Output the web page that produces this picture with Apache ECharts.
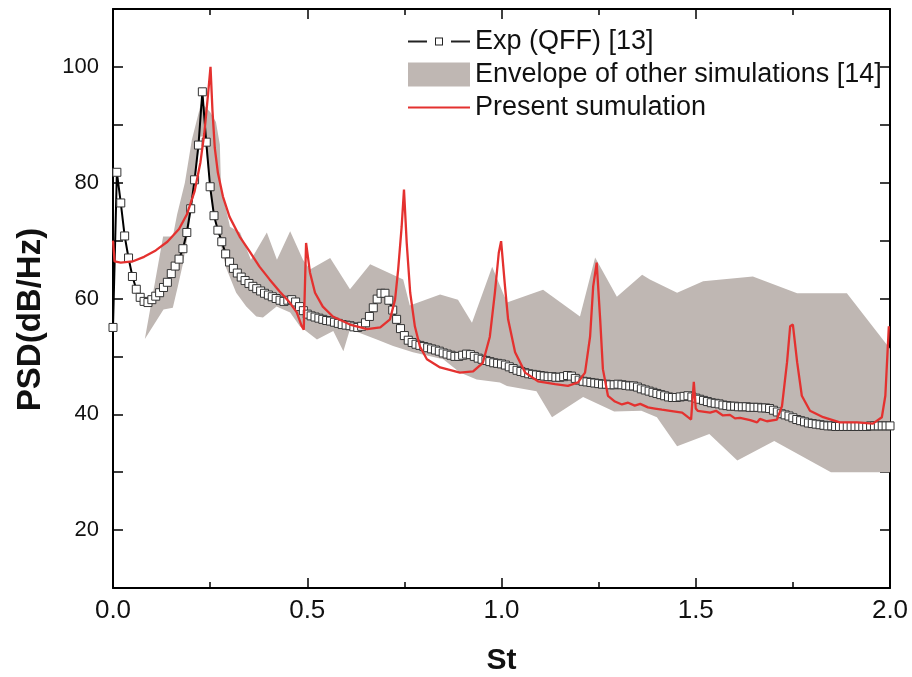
<!DOCTYPE html>
<html>
<head>
<meta charset="utf-8">
<script src="https://cdn.jsdelivr.net/npm/echarts@6/dist/echarts.min.js"></script>
<style>
  html, body { margin: 0; padding: 0; background: #fff; }
  #chart { width: 912px; height: 677px; }
</style>
</head>
<body>
<div id="chart"></div>
<script>
// measured spectrum, sampled every 0.01 in St from 0.00 to 2.00
const expStep = 0.01;
const expPsd = [
  55.0, 81.8, 76.5, 70.8, 67.0, 63.8, 61.6, 60.2, 59.5, 59.3,
  59.8, 60.4, 61.0, 61.9, 62.8, 64.3, 65.6, 66.8, 68.6, 71.4,
  75.5, 80.5, 86.5, 95.7, 87.0, 79.3, 74.3, 71.8, 69.8, 67.7,
  66.3, 65.2, 64.4, 63.7, 63.1, 62.6, 62.1, 61.7, 61.3, 60.9,
  60.6, 60.3, 60.0, 59.7, 59.5, 59.7, 59.8, 59.4, 58.6, 57.9,
  57.3, 57.0, 56.8, 56.6, 56.4, 56.2, 56.1, 55.9, 55.7, 55.5,
  55.4, 55.3, 55.1, 55.0, 55.2, 55.8, 56.9, 58.4, 59.9, 60.9,
  60.9, 59.7, 58.0, 56.4, 54.8, 53.6, 52.8, 52.4, 52.1, 51.9,
  51.7, 51.5, 51.3, 51.1, 50.9, 50.6, 50.4, 50.2, 50.0, 50.0,
  50.2, 50.4, 50.3, 50.0, 49.7, 49.5, 49.3, 49.1, 48.9, 48.8,
  48.7, 48.5, 48.2, 47.9, 47.6, 47.4, 47.2, 47.0, 46.9, 46.8,
  46.7, 46.6, 46.5, 46.5, 46.4, 46.4, 46.5, 46.7, 46.6, 46.2,
  45.9, 45.7, 45.6, 45.5, 45.4, 45.3, 45.2, 45.2, 45.1, 45.1,
  45.2, 45.1, 45.0, 44.9, 44.9, 44.7, 44.4, 44.2, 44.0, 43.8,
  43.6, 43.4, 43.2, 43.0, 42.9, 42.9, 43.0, 43.1, 43.2, 43.0,
  42.8, 42.6, 42.4, 42.2, 42.0, 41.9, 41.8, 41.6, 41.5, 41.4,
  41.4, 41.3, 41.3, 41.3, 41.2, 41.2, 41.2, 41.1, 41.1, 41.0,
  40.7, 40.4, 40.1, 39.9, 39.7, 39.4, 39.1, 38.9, 38.7, 38.5,
  38.4, 38.3, 38.2, 38.1, 38.0, 38.0, 37.9, 37.9, 37.9, 37.9,
  37.9, 37.9, 37.9, 37.9, 37.9, 38.0, 38.0, 38.0, 38.0, 38.0,
  38.0
];

// present simulation
const simSt = [
  0.000, 0.004, 0.020, 0.050, 0.080, 0.110, 0.140, 0.170, 0.190, 0.210,
  0.225, 0.235, 0.245, 0.251, 0.256, 0.262, 0.270, 0.283, 0.300, 0.326,
  0.352, 0.377, 0.403, 0.429, 0.455, 0.473, 0.486, 0.491, 0.497, 0.507,
  0.520, 0.540, 0.566, 0.610, 0.654, 0.688, 0.713, 0.726, 0.734, 0.743,
  0.749, 0.756, 0.765, 0.777, 0.790, 0.808, 0.842, 0.893, 0.927, 0.952,
  0.970, 0.983, 0.993, 0.999, 1.009, 1.017, 1.035, 1.061, 1.094, 1.138,
  1.171, 1.197, 1.215, 1.228, 1.236, 1.245, 1.254, 1.261, 1.274, 1.292,
  1.310, 1.326, 1.343, 1.357, 1.377, 1.395, 1.413, 1.434, 1.465, 1.480,
  1.488, 1.495, 1.500, 1.505, 1.537, 1.552, 1.570, 1.588, 1.601, 1.614,
  1.640, 1.658, 1.665, 1.683, 1.709, 1.722, 1.735, 1.743, 1.750, 1.761,
  1.773, 1.794, 1.828, 1.871, 1.915, 1.956, 1.979, 1.988, 1.997
];
const simPsd = [
  70.0, 66.4, 66.2, 66.4, 67.2, 68.3, 69.8, 72.0, 74.5, 78.5,
  83.5, 88.5, 95.5, 100.0, 92.5, 86.0, 81.7, 77.6, 74.1, 70.7,
  68.1, 65.5, 63.3, 61.2, 59.3, 57.6, 55.2, 54.6, 69.6, 64.5,
  61.0, 58.6, 56.9, 55.5, 54.7, 55.0, 56.4, 59.8, 65.0, 72.4,
  78.8, 69.6, 61.0, 55.2, 51.7, 49.5, 48.1, 47.2, 47.4, 48.9,
  53.4, 61.0, 67.9, 69.9, 62.1, 56.4, 50.7, 47.2, 45.7, 45.2,
  44.9, 45.5, 47.2, 53.4, 62.1, 66.2, 56.4, 47.8, 43.2, 42.2,
  41.7, 42.0, 41.5, 41.8, 41.2, 41.0, 40.8, 40.6, 40.3, 39.5,
  39.1, 45.6, 41.0, 40.6, 40.3, 40.6, 39.8, 39.9, 39.3, 39.4,
  39.0, 38.6, 39.2, 38.8, 39.1, 41.4, 49.0, 55.2, 55.5, 49.0,
  43.2, 40.6, 39.5, 38.6, 38.6, 38.4, 39.5, 43.2, 55.2
];

// envelope of other simulations: upper and lower bounds
const envUpperSt = [
  0.082, 0.129, 0.154, 0.165, 0.185, 0.203, 0.227, 0.250, 0.265, 0.275,
  0.278, 0.301, 0.327, 0.355, 0.396, 0.422, 0.456, 0.489, 0.507, 0.559,
  0.610, 0.662, 0.747, 0.764, 0.842, 0.888, 0.924, 0.976, 1.014, 1.107,
  1.202, 1.241, 1.297, 1.362, 1.382, 1.452, 1.519, 1.647, 1.761, 1.889,
  2.000
];
const envUpperPsd = [
  53.0, 70.7, 70.7, 74.5, 80.0, 87.4, 93.8, 92.2, 90.5, 86.6,
  79.3, 72.4, 71.4, 66.7, 71.4, 66.7, 71.6, 66.7, 65.0, 67.0,
  61.6, 65.9, 63.3, 58.8, 60.7, 59.8, 55.8, 65.5, 59.3, 61.5,
  56.9, 67.1, 60.3, 64.1, 63.3, 61.0, 63.0, 63.8, 60.9, 60.9,
  51.3
];
const envLowerSt = [
  0.082, 0.130, 0.154, 0.167, 0.180, 0.195, 0.210, 0.225, 0.236, 0.245,
  0.258, 0.272, 0.290, 0.317, 0.343, 0.369, 0.386, 0.421, 0.456, 0.481,
  0.525, 0.567, 0.593, 0.610, 0.679, 0.721, 0.772, 0.850, 0.893, 0.936,
  0.996, 1.014, 1.090, 1.130, 1.210, 1.290, 1.360, 1.400, 1.452, 1.535,
  1.607, 1.702, 1.848, 2.000
];
const envLowerPsd = [
  53.0, 58.1, 58.4, 62.1, 66.0, 72.0, 80.0, 88.0, 88.0, 82.0,
  75.0, 71.0, 65.5, 61.0, 58.6, 56.9, 56.7, 58.6, 57.6, 55.2,
  52.9, 54.4, 50.9, 54.7, 52.9, 51.8, 50.7, 49.5, 47.2, 46.0,
  45.5, 44.9, 44.0, 39.5, 43.0, 40.5, 40.6, 39.5, 34.5, 36.6,
  32.0, 35.4, 30.0, 30.0
];

const seriesNames = ['Exp (QFF) [13]', 'Envelope of other simulations [14]', 'Present sumulation'];
const xTicks = { min: 0, max: 2, interval: 0.5 };
const yTicks = { min: 10, max: 110, interval: 10 };

const envColor = '#bfb7b3';
const simColor = '#e4312f';
const font = 'Liberation Sans, Arial, sans-serif';

const expData = expPsd.map((v, i) => [+(i * expStep).toFixed(2), v]);
const simData = simSt.map((s, i) => [s, simPsd[i]]);
const envPoly = envUpperSt.map((s, i) => [s, envUpperPsd[i]])
  .concat(envLowerSt.map((s, i) => [s, envLowerPsd[i]]).reverse());

// legend icons: dash - small square - dash, and a plain line
const expIcon = 'path://M0 11H19V13H0Z M43 11H62V13H43Z M27 8H35V16H27Z M28 9V15H34V9Z';
const simIcon = 'path://M0 11H62V13H0Z';

let myChart = echarts.init(document.getElementById('chart'), null, { renderer: 'canvas' });

// onZero off, otherwise the right axis gets parked on x = 0
const axisLine = { show: true, onZero: false, lineStyle: { color: '#000', width: 2 } };
const tickStyle = { color: '#000', width: 1.5 };

myChart.setOption({
  animation: false,
  backgroundColor: '#fff',
  grid: { left: 113, right: 22, top: 9, bottom: 89, containLabel: false, outerBoundsMode: 'none' },
  legend: {
    orient: 'vertical',
    left: 408,
    top: 28,
    padding: 0,
    itemWidth: 62,
    itemHeight: 24,
    itemGap: 6,
    selectedMode: false,
    textStyle: { fontFamily: font, fontSize: 27, color: '#111' },
    data: [
      { name: seriesNames[0], icon: expIcon, itemStyle: { color: '#222', borderWidth: 0 } },
      { name: seriesNames[1], icon: 'rect', itemStyle: { color: envColor } },
      { name: seriesNames[2], icon: simIcon, itemStyle: { color: simColor, borderWidth: 0 } }
    ]
  },
  xAxis: [
    {
      type: 'value', position: 'bottom',
      min: xTicks.min, max: xTicks.max, interval: xTicks.interval,
      name: 'St',
      nameLocation: 'middle',
      nameGap: 58,
      nameTextStyle: { fontFamily: font, fontSize: 30, fontWeight: 'bold', color: '#111' },
      axisLine: axisLine,
      axisTick: { show: true, inside: true, length: 10, lineStyle: tickStyle },
      minorTick: { show: true, splitNumber: 2, length: 6, lineStyle: tickStyle },
      splitLine: { show: false },
      axisLabel: {
        margin: 10, fontFamily: font, fontSize: 26, color: '#111',
        formatter: v => v.toFixed(1)
      }
    },
    {
      type: 'value', position: 'top',
      min: xTicks.min, max: xTicks.max, interval: xTicks.interval,
      axisLine: axisLine,
      axisTick: { show: true, inside: true, length: 10, lineStyle: tickStyle },
      minorTick: { show: true, splitNumber: 2, length: 6, lineStyle: tickStyle },
      splitLine: { show: false },
      axisLabel: { show: false }
    }
  ],
  yAxis: [
    {
      type: 'value', position: 'left',
      min: yTicks.min, max: yTicks.max, interval: yTicks.interval,
      name: 'PSD(dB/Hz)',
      nameLocation: 'middle',
      nameGap: 66,
      nameTextStyle: {
        fontFamily: font, fontSize: 33, fontWeight: 'bold', color: '#111',
        padding: [0, 42, 0, 0]
      },
      axisLine: axisLine,
      axisTick: { show: true, inside: true, length: 10, lineStyle: tickStyle },
      splitLine: { show: false },
      axisLabel: {
        margin: 14, fontFamily: font, fontSize: 22, color: '#111',
        formatter: v => (v % 20 === 0 && v >= 20 && v <= 100) ? String(v) : ''
      }
    },
    {
      type: 'value', position: 'right',
      min: yTicks.min, max: yTicks.max, interval: yTicks.interval,
      axisLine: axisLine,
      axisTick: { show: true, inside: true, length: 10, lineStyle: tickStyle },
      splitLine: { show: false },
      axisLabel: { show: false }
    }
  ],
  series: [
    {
      name: seriesNames[1],
      type: 'custom',
      z: 1,
      itemStyle: { color: envColor },
      data: [[1, 50]],
      renderItem: function (params, api) {
        if (params.dataIndex !== 0) return;
        return {
          type: 'polygon',
          shape: { points: envPoly.map(p => api.coord(p)) },
          style: { fill: envColor }
        };
      }
    },
    {
      name: seriesNames[0],
      type: 'line',
      z: 2,
      data: expData,
      symbol: 'rect',
      symbolSize: 8,
      lineStyle: { color: '#000', width: 2 },
      itemStyle: { color: '#fff', borderColor: '#333', borderWidth: 1 }
    },
    {
      name: seriesNames[2],
      type: 'line',
      z: 3,
      data: simData,
      symbol: 'none',
      lineStyle: { color: simColor, width: 2.3 },
      itemStyle: { color: simColor }
    }
  ]
});
</script>
</body>
</html>
